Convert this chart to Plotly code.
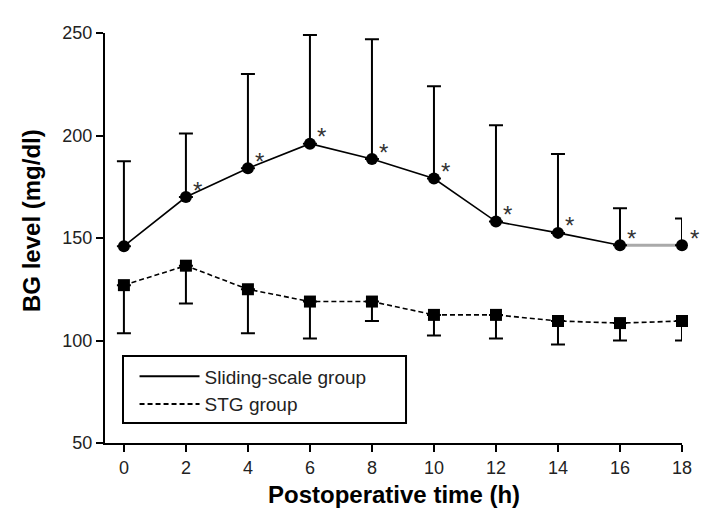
import plotly.graph_objects as go

# Data
hours = [0, 2, 4, 6, 8, 10, 12, 14, 16, 18]
x_ticks = [0, 2, 4, 6, 8, 10, 12, 14, 16, 18]
y_ticks = [50, 100, 150, 200, 250]

sliding_mean = [146, 170, 184, 196, 188.5, 179, 158, 152.5, 146.5, 146.5]
sliding_upper = [187.5, 201, 230, 249, 247, 224, 205, 191, 164.5, 159.5]

stg_mean = [127, 136.5, 125, 119, 119, 112.5, 112.5, 109.5, 108.5, 109.5]
stg_lower = [103.5, 118, 103.5, 101, 109.5, 102.5, 101, 98, 100, 100]

signif = [False, True, True, True, True, True, True, True, True, True]

sliding_plus = [u - m for u, m in zip(sliding_upper, sliding_mean)]
stg_minus = [m - l for m, l in zip(stg_mean, stg_lower)]

FONT = "Liberation Sans, Arial, Helvetica, sans-serif"

fig = go.Figure()

# last segment of the sliding-scale line is drawn in light grey in the original
fig.add_trace(go.Scatter(
    x=hours[-2:], y=sliding_mean[-2:], mode="lines", showlegend=False,
    line=dict(color="#aaaaaa", width=3), hoverinfo="skip", cliponaxis=False,
))

fig.add_trace(go.Scatter(
    x=hours, y=sliding_mean, mode="markers", name="Sliding-scale group",
    showlegend=False,
    marker=dict(symbol="circle", size=12, color="black"),
    error_y=dict(type="data", symmetric=False, array=sliding_plus,
                 arrayminus=[0] * len(hours), color="black", thickness=2, width=7),
    cliponaxis=False,
))
fig.add_trace(go.Scatter(
    x=hours[:-1], y=sliding_mean[:-1], mode="lines", showlegend=False,
    line=dict(color="black", width=1.6), hoverinfo="skip", cliponaxis=False,
))

fig.add_trace(go.Scatter(
    x=hours, y=stg_mean, mode="lines+markers", name="STG group",
    showlegend=False,
    line=dict(color="black", width=1.6, dash="5px,3px"),
    marker=dict(symbol="square", size=12, color="black"),
    error_y=dict(type="data", symmetric=False, array=[0] * len(hours),
                 arrayminus=stg_minus, color="black", thickness=2, width=7),
    cliponaxis=False,
))

# legend-only entries (line samples without markers, as in the original)
fig.add_trace(go.Scatter(
    x=[None], y=[None], mode="lines", name="Sliding-scale group",
    line=dict(color="black", width=2),
))
fig.add_trace(go.Scatter(
    x=[None], y=[None], mode="lines", name="STG group",
    line=dict(color="black", width=2, dash="5px,3px"),
))

annotations = []
for xv, yv, s in zip(hours, sliding_mean, signif):
    if s:
        annotations.append(dict(
            x=xv, y=yv, xref="x", yref="y", text="*", showarrow=False,
            xshift=12, yshift=7, font=dict(size=24, color="#333333", family=FONT),
        ))

annotations.append(dict(
    x=-0.1265, y=0.5415, xref="paper", yref="paper", text="<b>BG level (mg/dl)</b>",
    textangle=-90, showarrow=False, xanchor="center", yanchor="middle",
    font=dict(size=24, color="black", family=FONT),
))
annotations.append(dict(
    x=0.5009, y=-0.1268, xref="paper", yref="paper", text="<b>Postoperative time (h)</b>",
    showarrow=False, xanchor="center", yanchor="middle",
    font=dict(size=24, color="black", family=FONT),
))

fig.update_layout(
    width=708, height=509,
    margin=dict(l=97, r=34, t=25, b=74),
    paper_bgcolor="white", plot_bgcolor="white",
    font=dict(family=FONT, color="black"),
    showlegend=True,
    legend=dict(
        x=0.0512, y=0.2086, xanchor="left", yanchor="top",
        bgcolor="rgba(0,0,0,0)", borderwidth=0, itemwidth=60,
        font=dict(size=19, color="#222222", family=FONT),
        tracegroupgap=0,
    ),
    shapes=[dict(
        type="rect", xref="paper", yref="paper",
        x0=0.0312, x1=0.5217, y0=0.0488, y1=0.2122,
        line=dict(color="black", width=2), fillcolor="rgba(0,0,0,0)",
    )],
    annotations=annotations,
    xaxis=dict(
        range=[-0.61, 18], tickmode="array", tickvals=x_ticks,
        ticktext=[str(t) for t in x_ticks],
        showline=True, linecolor="black", linewidth=2,
        ticks="outside", ticklen=7, tickwidth=2, tickcolor="black",
        showgrid=False, zeroline=False,
        tickfont=dict(size=18, color="#222222", family=FONT),
    ),
    yaxis=dict(
        range=[50, 250], tickmode="array", tickvals=y_ticks,
        ticktext=[str(t) for t in y_ticks],
        showline=True, linecolor="black", linewidth=2,
        ticks="outside", ticklen=7, tickwidth=2, tickcolor="black",
        showgrid=False, zeroline=False,
        tickfont=dict(size=18, color="#222222", family=FONT),
    ),
)

fig.write_html("out.html")
